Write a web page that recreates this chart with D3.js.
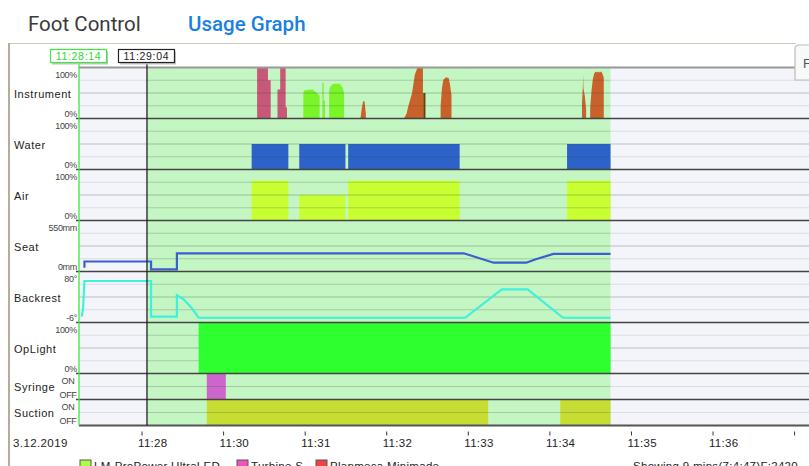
<!DOCTYPE html>
<html>
<head>
<meta charset="utf-8">
<script src="https://cdn.jsdelivr.net/npm/d3@7"></script>
<style>
  body { margin: 0; background: #fff; overflow: hidden; }
  svg { display: block; }
  .lbl { font-family: "Liberation Sans", Arial, sans-serif; fill: #222; }
</style>
</head>
<body>
<svg id="chart" width="809" height="466"></svg>
<script>
// ---------- data ----------
const dateLabel = "3.12.2019";
const viewStart = "11:28:14";
const viewEnd = "11:37:14";
const sessionStart = "11:29:04";
const sessionEnd = "11:34:45";
const cursorTime = "11:28:14";

const tickTimes = ["11:29:00", "11:30:00", "11:31:00", "11:32:00", "11:33:00", "11:34:00", "11:35:00", "11:36:00", "11:37:00"];
const tickLabels = ["11:28", "11:30", "11:31", "11:32", "11:33", "11:34", "11:35", "11:36", ""];

const rowNames = ["Instrument", "Water", "Air", "Seat", "Backrest", "OpLight", "Syringe", "Suction"];
const rowTopLabels = ["100%", "100%", "100%", "550mm", "80°", "100%", "ON", "ON"];
const rowBottomLabels = ["0%", "0%", "0%", "0mm", "-6°", "0%", "OFF", "OFF"];
const seatRange = [0, 550];
const backrestRange = [-6, 80];

// instrument activity, percent over time, one array per burst
const turbineBursts = [
  [["11:30:25", 0], ["11:30:25", 100], ["11:30:33", 100], ["11:30:33", 75], ["11:30:35", 75], ["11:30:35", 0]],
  [["11:30:40", 0], ["11:30:40", 57], ["11:30:42", 57], ["11:30:42", 100], ["11:30:46", 100], ["11:30:46", 22], ["11:30:47", 22], ["11:30:47", 0]]
];
const scalerBursts = [
  [["11:30:59", 0], ["11:30:59", 50], ["11:31:00", 56], ["11:31:06", 57], ["11:31:09", 50], ["11:31:11", 45], ["11:31:11", 0]],
  [["11:31:13", 0], ["11:31:13", 70], ["11:31:14", 70], ["11:31:14", 35], ["11:31:15", 35], ["11:31:15", 0]],
  [["11:31:18", 0], ["11:31:18", 55], ["11:31:19", 63], ["11:31:21", 68], ["11:31:26", 68], ["11:31:28", 60], ["11:31:29", 50], ["11:31:29", 0]]
];
const motorBursts = [
  [["11:31:41", 0], ["11:31:42", 20], ["11:31:43", 34], ["11:31:44", 34], ["11:31:45", 10], ["11:31:45", 0]],
  [["11:32:13", 0], ["11:32:15", 10], ["11:32:16", 22], ["11:32:19", 50], ["11:32:21", 86], ["11:32:23", 100], ["11:32:27", 100], ["11:32:27", 50], ["11:32:29", 50], ["11:32:29", 0]],
  [["11:32:40", 0], ["11:32:40", 25], ["11:32:41", 60], ["11:32:42", 76], ["11:32:44", 81], ["11:32:46", 79], ["11:32:47", 65], ["11:32:48", 45], ["11:32:48", 0]],
  [["11:34:24", 0], ["11:34:24", 30], ["11:34:25", 86], ["11:34:25", 60], ["11:34:26", 45], ["11:34:27", 20], ["11:34:27", 0]],
  [["11:34:30", 0], ["11:34:30", 20], ["11:34:31", 55], ["11:34:32", 78], ["11:34:33", 88], ["11:34:34", 92], ["11:34:35", 90], ["11:34:36", 92], ["11:34:37", 90], ["11:34:38", 92], ["11:34:39", 88], ["11:34:40", 80], ["11:34:40", 0]]
];
const instrumentMarks = [["11:32:28", 50]];

// [start, end, percent]
const waterBlocks = [["11:30:21", "11:30:48", 50], ["11:30:56", "11:31:30", 50], ["11:31:32", "11:32:54", 50], ["11:34:13", "11:34:45", 50]];
const airBlocks = [["11:30:21", "11:30:48", 78], ["11:30:56", "11:31:30", 50], ["11:31:32", "11:32:54", 78], ["11:34:13", "11:34:45", 78]];
const opLightBlocks = [["11:29:42", "11:34:45", 100]];
const syringeBlocks = [["11:29:48", "11:30:02", 100]];
const suctionBlocks = [["11:29:48", "11:33:15", 100], ["11:34:08", "11:34:45", 100]];

// seat height (mm) and backrest angle (deg)
const seatPoints = [["11:28:18", 40], ["11:28:18", 108], ["11:29:07", 108], ["11:29:07", 24], ["11:29:26", 24], ["11:29:26", 196],
  ["11:32:57", 196], ["11:33:19", 95], ["11:33:43", 95], ["11:33:50", 132], ["11:34:03", 190], ["11:34:45", 190]];
const backrestPoints = [["11:28:16", 4], ["11:28:17", 18], ["11:28:18", 64], ["11:29:07", 64], ["11:29:07", 4], ["11:29:26", 4],
  ["11:29:26", 40], ["11:29:31", 33], ["11:29:37", 18], ["11:29:42", 2], ["11:32:58", 2], ["11:33:25", 50], ["11:33:44", 50],
  ["11:34:10", 2], ["11:34:45", 2]];

const legendNames = ["LM-ProPower UltraLED", "Turbine S", "Planmeca Minimade"];
const statusText = "Showing 9 mins(7:4:47)F:2420";

// ---------- layout ----------
const svg = d3.select("#chart");
const parse = d3.timeParse("%H:%M:%S");
const plotLeft = 79, plotRight = 809, plotTop = 67.5;
const minutePx = 81.57;
const rowHeights = [51, 51, 51, 51, 51, 51, 26, 26];
const rowTops = [];
rowHeights.reduce((acc, h) => { rowTops.push(acc); return acc + h; }, plotTop);
const plotBottom = rowTops[rowTops.length - 1] + rowHeights[rowHeights.length - 1];
const rowBottom = i => rowTops[i] + rowHeights[i];

const x = d3.scaleTime()
  .domain([parse(viewStart), parse(viewEnd)])
  .range([plotLeft, plotLeft + 9 * minutePx]);
const xt = s => x(parse(s));

const pctY = i => d3.scaleLinear().domain([0, 100]).range([rowBottom(i), rowTops[i]]);
const seatY = d3.scaleLinear().domain(seatRange).range([rowBottom(3), rowTops[3]]);
const backY = d3.scaleLinear().domain(backrestRange).range([rowBottom(4), rowTops[4]]);

// header
svg.append("text").attr("x", 28).attr("y", 30.5)
  .style("font-family", "Roboto, sans-serif").style("font-size", "20.5px").style("fill", "#3a3a3a")
  .text("Foot Control");
svg.append("text").attr("x", 188).attr("y", 30.5)
  .style("font-family", "Roboto, sans-serif").style("font-size", "20.5px").style("font-weight", 500).style("fill", "#1a7fe3")
  .text("Usage Graph");

// panel frame
svg.append("line").attr("x1", 8).attr("x2", 796).attr("y1", 43.5).attr("y2", 43.5).attr("stroke", "#cfc8b8").attr("stroke-width", 1.2);
svg.append("line").attr("x1", 9).attr("x2", 9).attr("y1", 43).attr("y2", 466).attr("stroke", "#b5ad9a").attr("stroke-width", 2);

// backgrounds
svg.append("rect").attr("x", plotLeft).attr("y", plotTop).attr("width", plotRight - plotLeft).attr("height", plotBottom - plotTop).attr("fill", "#f4f5fa");
svg.append("rect").attr("x", xt(sessionStart)).attr("y", plotTop).attr("width", xt(sessionEnd) - xt(sessionStart))
  .attr("height", plotBottom - plotTop).attr("fill", "#c4f6c4");

const data = svg.append("g");
const grid = svg.append("g");
const over = svg.append("g");

// blocks
function blocks(layer, arr, i, color) {
  const y = pctY(i);
  layer.selectAll(null).data(arr).enter().append("rect")
    .attr("x", d => xt(d[0])).attr("width", d => xt(d[1]) - xt(d[0]))
    .attr("y", d => y(d[2])).attr("height", d => y(0) - y(d[2]))
    .attr("fill", color);
}
blocks(data, waterBlocks, 1, "#2d63c8");
blocks(data, airBlocks, 2, "#c8ff33");
blocks(data, syringeBlocks, 6, "#cc66cc");
blocks(data, suctionBlocks, 7, "#c8dd33");

// instrument areas
const yi = pctY(0);
const area = d3.area().x(d => xt(d[0])).y0(yi(0)).y1(d => yi(d[1]));
[[turbineBursts, "#c8587a"], [scalerBursts, "#7af52a"], [motorBursts, "#c8622a"]].forEach(([bursts, color]) => {
  data.selectAll(null).data(bursts).enter().append("path").attr("d", area).attr("fill", color);
});
data.selectAll(null).data(instrumentMarks).enter().append("line")
  .attr("x1", d => xt(d[0])).attr("x2", d => xt(d[0])).attr("y1", yi(0)).attr("y2", d => yi(d[1]))
  .attr("stroke", "#1f5a1f").attr("stroke-width", 1.2);

// grid lines
const segments = [[viewStart, sessionStart, false], [sessionStart, sessionEnd, true], [sessionEnd, viewEnd, false]];
rowHeights.forEach((h, i) => {
  const fracs = h > 30 ? [0.25, 0.5, 0.75] : [0.5];
  fracs.forEach(f => {
    const yy = rowTops[i] + h * f;
    const mid = f === 0.5 && h > 30;
    segments.forEach(([a, b, active]) => {
      grid.append("line").attr("x1", xt(a)).attr("x2", Math.min(xt(b), plotRight)).attr("y1", yy).attr("y2", yy)
        .attr("stroke", active ? (mid ? "rgba(50,80,50,0.32)" : "rgba(50,80,50,0.24)") : (mid ? "#bcbdc5" : "#dcdde4"))
        .attr("stroke-width", 1.2);
    });
  });
});

// OpLight drawn above the grid (solid)
blocks(over, opLightBlocks, 5, "#2eff2e");

// seat and backrest lines
const seatLine = d3.line().x(d => xt(d[0])).y(d => seatY(d[1]));
const backLine = d3.line().x(d => xt(d[0])).y(d => backY(d[1]));
over.append("path").attr("d", seatLine(seatPoints)).attr("fill", "none").attr("stroke", "#3a5fd0").attr("stroke-width", 2.2);
over.append("path").attr("d", backLine(backrestPoints)).attr("fill", "none").attr("stroke", "#3ff0dc").attr("stroke-width", 2.2);

// row borders
rowTops.slice(1).forEach(t => {
  over.append("line").attr("x1", 76).attr("x2", plotRight).attr("y1", t).attr("y2", t).attr("stroke", "#444").attr("stroke-width", 1.5);
});
over.append("line").attr("x1", plotLeft).attr("x2", 795).attr("y1", plotTop).attr("y2", plotTop).attr("stroke", "#999").attr("stroke-width", 2);
over.append("line").attr("x1", plotLeft).attr("x2", plotRight).attr("y1", plotBottom).attr("y2", plotBottom).attr("stroke", "#555").attr("stroke-width", 2);

// row labels
const lab = svg.append("g").attr("class", "lbl");
rowNames.forEach((n, i) => {
  const cy = rowTops[i] + rowHeights[i] / 2 + 4.5;
  lab.append("text").attr("x", 14).attr("y", cy).style("font-size", "11px").style("letter-spacing", "0.55px").text(n);
  const small = i >= 6;
  const tx = small ? 68 : 77;
  const anchor = small ? "middle" : "end";
  lab.append("text").attr("x", tx).attr("y", rowTops[i] + 10).attr("text-anchor", anchor)
    .style("font-size", "9px").style("fill", "#444").style("letter-spacing", "-0.3px").text(rowTopLabels[i]);
  lab.append("text").attr("x", tx).attr("y", rowBottom(i) - 2).attr("text-anchor", anchor)
    .style("font-size", "9px").style("fill", "#444").style("letter-spacing", "-0.3px").text(rowBottomLabels[i]);
});

// time markers
function marker(t, color, textColor) {
  const cx = xt(t);
  over.append("line").attr("x1", cx).attr("x2", cx).attr("y1", 62.5).attr("y2", plotBottom).attr("stroke", color).attr("stroke-width", 1.3);
  svg.append("rect").attr("x", cx - 27).attr("y", 51.5).attr("width", 56).attr("height", 13).attr("fill", "#c4c4c4");
  svg.append("rect").attr("x", cx - 28.5).attr("y", 49.5).attr("width", 56).attr("height", 13).attr("fill", "#fff").attr("stroke", color).attr("stroke-width", 1.2);
  svg.append("text").attr("class", "lbl").attr("x", cx - 0.5).attr("y", 60.2).attr("text-anchor", "middle")
    .style("font-size", "10.5px").style("letter-spacing", "0.7px").style("fill", textColor).text(t);
}
marker(cursorTime, "#3ee83e", "#2ed82e");
marker(sessionStart, "#222", "#222");

// time axis
const axis = d3.axisBottom(x).tickValues(tickTimes.map(parse)).tickFormat((d, i) => tickLabels[i]).tickSize(4);
const ax = svg.append("g").attr("transform", `translate(0,${plotBottom + 6})`).call(axis);
ax.select(".domain").remove();
ax.selectAll(".tick line").attr("stroke", "#333");
ax.selectAll(".tick text").attr("x", -4).attr("y", 15.5).attr("dy", 0).attr("text-anchor", "start")
  .style("font-family", "Liberation Sans, Arial, sans-serif").style("font-size", "11.5px").style("letter-spacing", "0.3px").style("fill", "#222");
svg.append("text").attr("class", "lbl").attr("x", 13).attr("y", plotBottom + 21.5)
  .style("font-size", "11.5px").style("letter-spacing", "0.4px").text(dateLabel);

// right-side tab
svg.append("path").attr("d", "M795,80 L795,49 Q795,45 799,45 L812,45 L812,80 Z").attr("fill", "#f9f9f9").attr("stroke", "#bbb").attr("stroke-width", 1.2);
svg.append("text").attr("class", "lbl").attr("x", 803).attr("y", 68).style("font-size", "13px").style("fill", "#555").text("F");

// legend along the bottom edge
const legendColors = ["#aaff44", "#ee55bb", "#ee4444"];
const legendX = [80, 237, 316];
legendNames.forEach((n, i) => {
  svg.append("rect").attr("x", legendX[i]).attr("y", 460).attr("width", 11).attr("height", 11)
    .attr("fill", legendColors[i]).attr("stroke", "#555").attr("stroke-width", 1);
  svg.append("text").attr("class", "lbl").attr("x", legendX[i] + 14).attr("y", 469.5)
    .style("font-size", "11.5px").style("letter-spacing", "0.3px").text(n);
});
svg.append("text").attr("class", "lbl").attr("x", 633).attr("y", 469.5).style("font-size", "11.5px").style("letter-spacing", "0.3px").text(statusText);
</script>
</body>
</html>
